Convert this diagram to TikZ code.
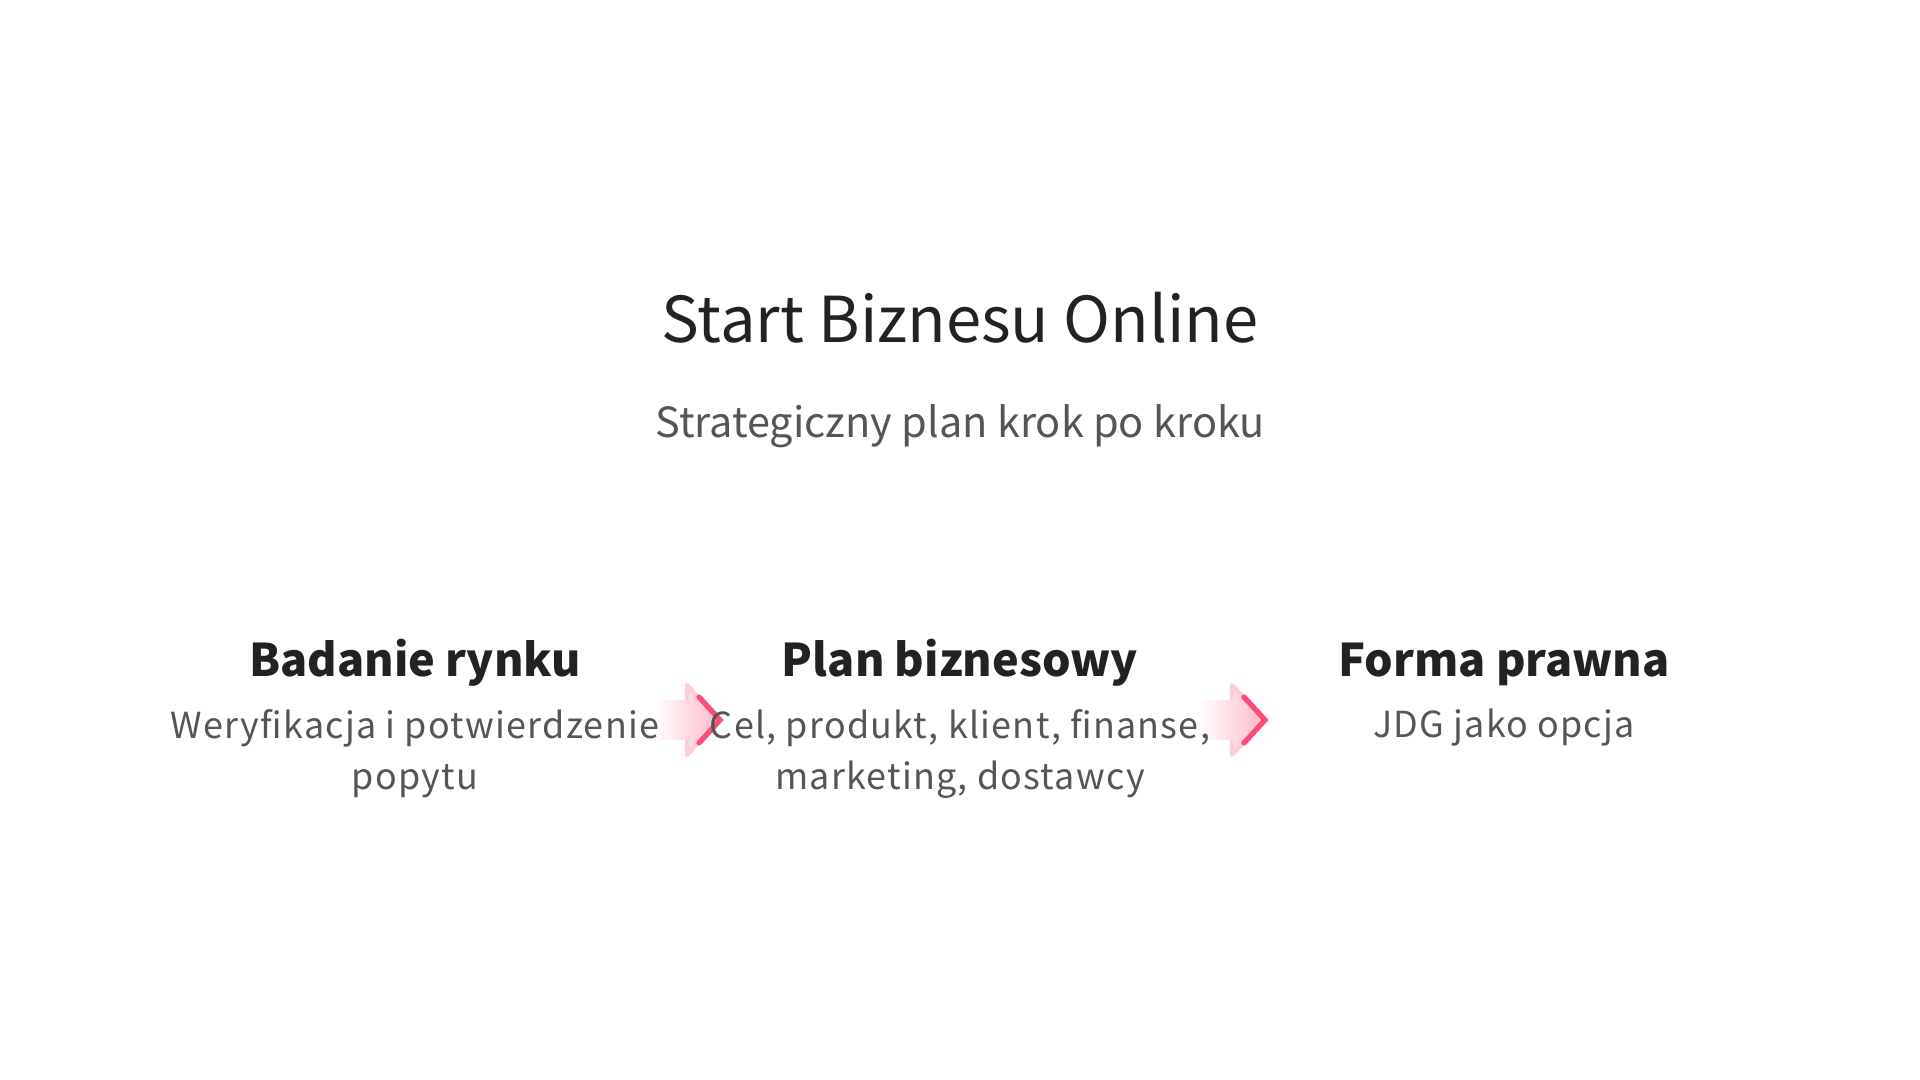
\documentclass[tikz,border=0pt]{standalone}
\usepackage{fontspec}
\setmainfont{Noto Sans CJK SC}
\newfontfamily\descfont[LetterSpace=3.5]{Noto Sans CJK SC}
\usetikzlibrary{positioning}
\definecolor{ink}{HTML}{222222}
\definecolor{greytext}{HTML}{555555}
\definecolor{pinkedge}{HTML}{FF4D7A}
\definecolor{pinkfill}{HTML}{FFB8C8}

\begin{document}
\begin{tikzpicture}[x=0.01cm,y=-0.01cm]
   \useasboundingbox (0,0) rectangle (1920,1080);
   \tikzstyle{heading}=[anchor=base, text=ink, font=\fontsize{12.8}{16}\selectfont\bfseries]
   \tikzstyle{desc}=[anchor=base, text=greytext, align=center, font=\descfont\fontsize{10.2}{14.7}\selectfont]
   % arrows between the steps (behind the text)
   \foreach \a/\x in {1/687,2/1232} {
       \coordinate (a\a) at (\x,720);
       \shade[left color=white, right color=pinkfill] (a\a) ++(-33,-20) -- ++(33,0) -- ++(0,-15)
           -- ++(33,35) -- ++(-33,35) -- ++(0,-15) -- ++(-33,0) -- cycle;
       \draw[pinkfill!70, line width=1.2pt, line join=round] (a\a) ++(0,-20) -- ++(0,-15) -- ++(33,35) -- ++(-33,35) -- ++(0,-15);
       \draw[pinkedge, line width=1.5pt, line cap=round] (a\a) ++(12,-23) -- ++(21,23) -- ++(-21,23);
   }
   \node[anchor=base, text=ink, font=\fontsize{18}{22}\selectfont] (title) at (960,343) {Start Biznesu Online};
   \node[anchor=base, text=greytext, font=\fontsize{11.8}{15}\selectfont] (subtitle) at (960,438) {Strategiczny plan krok po kroku};
   \foreach \i/\x/\y/\head/\txt in {1/415/790/{Badanie rynku}/{Weryfikacja i potwierdzenie\\popytu},
                                    2/960/790/{Plan biznesowy}/{Cel, produkt, klient, finanse,\\marketing, dostawcy},
                                    3/1504/738/{Forma prawna}/{JDG jako opcja}} {
       \node[heading] (h\i) at (\x,677) {\head};
       \node[desc] (d\i) at (\x,\y) {\txt};
   }
\end{tikzpicture}
\end{document}
